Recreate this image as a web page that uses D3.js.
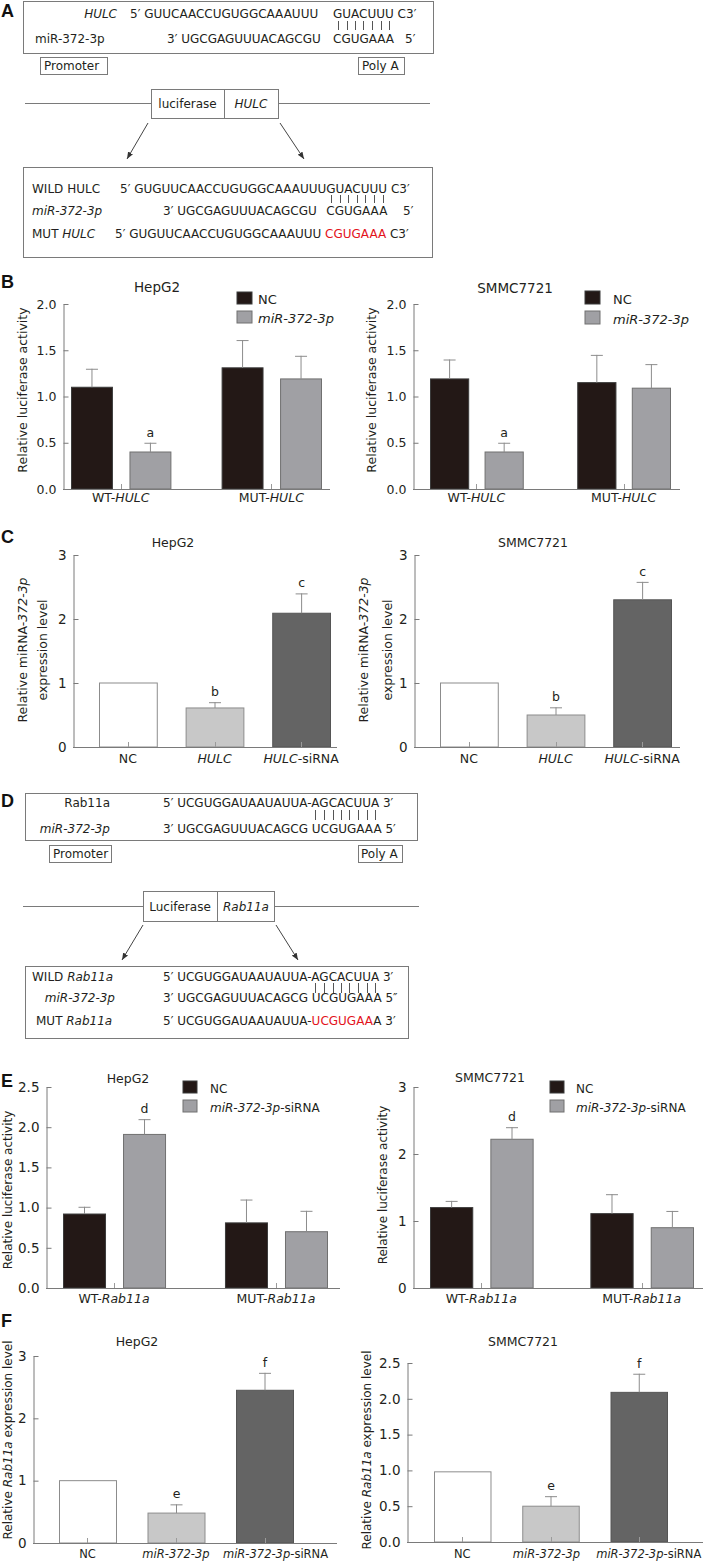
<!DOCTYPE html>
<html><head><meta charset="utf-8">
<script src="https://cdn.jsdelivr.net/npm/d3@7"></script>
<style>
body{margin:0;background:#fff;}
svg{display:block;font-family:"DejaVu Sans",Verdana,sans-serif;}
text{white-space:pre;}
</style></head><body>
<svg id="fig" width="706" height="1563"></svg>
<script>
// ================= DATA =================
// Panel B: luciferase activity, HULC constructs
const groupsHULC = ["WT-*HULC*", "MUT-*HULC*"];
const seriesB = ["NC", "*miR-372-3p*"];
const bHepNC = [1.10, 1.31], bHepNCErr = [0.20, 0.30];
const bHepMiR = [0.40, 1.19], bHepMiRErr = [0.10, 0.25];
const bHepSig = [["", ""], ["a", ""]];
const bSmmNC = [1.19, 1.15], bSmmNCErr = [0.21, 0.30];
const bSmmMiR = [0.40, 1.09], bSmmMiRErr = [0.10, 0.26];
const bSmmSig = [["", ""], ["a", ""]];
const ticksB = [0, 0.5, 1.0, 1.5, 2.0];

// Panel C: miRNA-372-3p expression
const catsC = ["NC", "*HULC*", "*HULC*-siRNA"];
const cHep = [1.00, 0.61, 2.09], cHepErr = [0, 0.09, 0.31], cHepSig = ["", "b", "c"];
const cSmm = [1.00, 0.50, 2.30], cSmmErr = [0, 0.12, 0.28], cSmmSig = ["", "b", "c"];
const ticksC = [0, 1, 2, 3];

// Panel E: luciferase activity, Rab11a constructs
const groupsRab = ["WT-*Rab11a*", "MUT-*Rab11a*"];
const seriesE = ["NC", "*miR-372-3p*-siRNA"];
const eHepNC = [0.92, 0.81], eHepNCErr = [0.09, 0.29];
const eHepSi = [1.91, 0.70], eHepSiErr = [0.19, 0.26];
const eHepSig = [["", ""], ["d", ""]];
const eSmmNC = [1.20, 1.11], eSmmNCErr = [0.10, 0.29];
const eSmmSi = [2.22, 0.90], eSmmSiErr = [0.18, 0.25];
const eSmmSig = [["", ""], ["d", ""]];
const ticksEHep = [0, 0.5, 1.0, 1.5, 2.0, 2.5];
const ticksESmm = [0, 1, 2, 3];

// Panel F: Rab11a expression
const catsF = ["NC", "*miR-372-3p*", "*miR-372-3p*-siRNA"];
const fHep = [1.00, 0.48, 2.45], fHepErr = [0, 0.14, 0.28], fHepSig = ["", "e", "f"];
const fSmm = [0.98, 0.50, 2.09], fSmmErr = [0, 0.14, 0.26], fSmmSig = ["", "e", "f"];
const ticksFHep = [0, 1, 2, 3];
const ticksFSmm = [0, 0.5, 1.0, 1.5, 2.0, 2.5];

// ================= DRAWING =================
const svg = d3.select("#fig");
const INK = "#231f20", AX = "#7a7a7a", ERR = "#8c8c8c";

svg.append("defs").append("marker")
  .attr("id", "arr").attr("viewBox", "0 0 10 10").attr("refX", 10).attr("refY", 5)
  .attr("markerWidth", 7).attr("markerHeight", 7).attr("markerUnits", "userSpaceOnUse")
  .attr("orient", "auto")
  .append("path").attr("d", "M0,1L10,5L0,9Z").attr("fill", "#333");

function rich(sel, str) {
  str.split(/(\*[^*]+\*|\[[^\]]+\])/).filter(s => s.length).forEach(t => {
    const sp = sel.append("tspan");
    if (t[0] === "*") sp.attr("font-style", "italic").text(t.slice(1, -1));
    else if (t[0] === "[") sp.attr("fill", "#e3131b").text(t.slice(1, -1));
    else sp.text(t);
  });
  return sel;
}
function txt(x, y, str, o = {}) {
  const t = svg.append("text").attr("x", x).attr("y", y)
    .attr("font-size", o.fs || 12).attr("fill", o.fill || INK)
    .attr("text-anchor", o.anchor || "start");
  if (o.weight) t.attr("font-weight", o.weight);
  if (o.family) t.attr("font-family", o.family);
  return rich(t, str);
}
function vtxt(cx, cy, str, fs) {
  const t = svg.append("text").attr("transform", `translate(${cx},${cy}) rotate(-90)`)
    .attr("text-anchor", "middle").attr("dy", "0.35em").attr("font-size", fs).attr("fill", INK);
  return rich(t, str);
}
function line(x1, y1, x2, y2, c = AX, arrow = false) {
  const l = svg.append("line").attr("x1", x1).attr("y1", y1).attr("x2", x2).attr("y2", y2)
    .attr("stroke", c).attr("stroke-width", 1);
  if (arrow) l.attr("marker-end", "url(#arr)");
  return l;
}
function box(x, y, w, h) {
  svg.append("rect").attr("x", x + 0.5).attr("y", y + 0.5).attr("width", w).attr("height", h)
    .attr("fill", "none").attr("stroke", AX);
}
function pairBars(textSel, i0, n, y1, y2) {
  const node = textSel.node();
  for (let i = i0; i < i0 + n; i++) {
    const e = node.getExtentOfChar(i);
    const cx = Math.round(e.x + e.width / 2) + 0.5;
    line(cx, y1, cx, y2, "#555");
  }
}
function panelLetter(x, y, s) {
  txt(x, y, s, {fs: 18, weight: "bold", family: "'Liberation Sans',Arial,sans-serif", fill: "#111"});
}

// ---------- Panel A ----------
panelLetter(1, 17, "A");
box(23, 1, 410, 52);
txt(117, 18, "*HULC*", {anchor: "end"});
txt(130, 18, "5′ GUUCAACCUGUGGCAAAUUU");
const aTop = txt(333, 18, "GUACUUU C3′");
pairBars(aTop, 0, 7, 21, 30);
txt(35, 43, "miR-372-3p");
txt(167, 43, "3′ UGCGAGUUUACAGCGU");
txt(333, 43, "CGUGAAA");
txt(405, 43, "5′");
box(40, 57, 67, 17); txt(44, 70, "Promoter");
box(358, 57, 46, 17); txt(362, 70, "Poly A");
line(25, 103.5, 151, 103.5); line(278, 103.5, 430, 103.5);
box(151, 89, 127, 29); line(224.5, 89, 224.5, 118);
txt(187.5, 108, "luciferase", {anchor: "middle"});
txt(251, 108, "*HULC*", {anchor: "middle"});
line(148, 123, 127, 159, "#444", true);
line(280, 123, 304, 159, "#444", true);
box(23, 167, 409, 90);
txt(32, 193, "WILD HULC");
const aWild = txt(120, 193, "5′ GUGUUCAACCUGUGGCAAAUUUGUACUUU C3′");
pairBars(aWild, 25, 7, 195, 203);
txt(32, 215, "*miR-372-3p*");
txt(163, 215, "3′ UGCGAGUUUACAGCGU");
txt(aWild.node().getExtentOfChar(25).x, 215, "CGUGAAA");
txt(403, 215, "5′");
txt(32, 238, "MUT *HULC*");
txt(115, 238, "5′ GUGUUCAACCUGUGGCAAAUUU [CGUGAAA] C3′");

// ---------- Panel D ----------
panelLetter(1, 807, "D");
box(25, 793, 392, 47);
txt(110, 807, "Rab11a", {anchor: "end"});
const dTop = txt(163, 807, "5′ UCGUGGAUAAUAUUA-AGCACUUA 3′");
pairBars(dTop, 19, 8, 810, 820);
txt(110, 833, "*miR-372-3p*", {anchor: "end"});
txt(163, 833, "3′ UGCGAGUUUACAGCG UCGUGAAA 5′");
box(49, 845, 62, 17); txt(53, 858, "Promoter");
box(358, 845, 44, 17); txt(361, 858, "Poly A");
line(23, 906.5, 143, 906.5); line(274, 906.5, 419, 906.5);
box(143, 891, 131, 30); line(217.5, 891, 217.5, 921);
txt(180, 911, "Luciferase", {anchor: "middle"});
txt(246, 911, "*Rab11a*", {anchor: "middle"});
line(143, 925, 122, 960, "#444", true);
line(276, 925, 298, 960, "#444", true);
box(25, 966, 383, 72);
txt(32, 981, "WILD *Rab11a*");
const dWild = txt(163, 981, "5′ UCGUGGAUAAUAUUA-AGCACUUA 3′");
pairBars(dWild, 19, 8, 983, 993);
txt(115, 1002, "*miR-372-3p*", {anchor: "end"});
txt(163, 1002, "3′ UGCGAGUUUACAGCG UCGUGAAA 5″");
txt(36, 1025, "MUT *Rab11a*");
txt(163, 1025, "5′ UCGUGGAUAAUAUUA-[UCGUGAA]A 3′");

// ---------- chart helpers ----------
function yAxis(y, x0, ticks, fmt, fs) {
  const ga = svg.append("g").attr("transform", `translate(${x0},0)`)
    .call(d3.axisLeft(y).tickValues(ticks).tickFormat(fmt).tickSizeInner(-5).tickSizeOuter(0).tickPadding(7));
  ga.attr("font-family", null).attr("font-size", null);
  ga.select(".domain").attr("stroke", AX);
  ga.selectAll(".tick line").attr("stroke", AX);
  ga.selectAll(".tick text").attr("fill", INK).attr("font-size", fs);
}
function xBase(L, y, centers) {
  line(L.ax0, L.yBot + 0.5, L.ax1, L.yBot + 0.5);
  centers.forEach(c => line(Math.round(c) + 0.5, L.yBot, Math.round(c) + 0.5, L.yBot - 5, "#9a9a9a"));
}
function errBar(cx, y, m, e, sig) {
  if (e > 0) {
    line(cx, y(m), cx, y(m + e), ERR);
    line(cx - 6, y(m + e) + 0.5, cx + 6, y(m + e) + 0.5, ERR);
  }
  if (sig) txt(cx, y(m + e) - 6, sig, {anchor: "middle", fs: 12.5});
}

function groupedChart(L, D) {
  const y = d3.scaleLinear().domain([0, D.ymax]).range([L.yBot, L.yTop]);
  const x0 = d3.scaleBand().domain(D.groups).range([L.bx0, L.bx1]).paddingInner(L.pad).paddingOuter(0);
  const x1 = d3.scaleBand().domain(D.series).range([0, x0.bandwidth()]).paddingInner(L.inner).paddingOuter(0);
  const fills = ["#231816", "#a0a0a4"], strokes = ["#3b3b3b", "#707070"];
  D.series.forEach((s, si) => {
    D.groups.forEach((g, gi) => {
      const m = D.means[si][gi];
      svg.append("rect").attr("x", x0(g) + x1(s) + 0.5).attr("y", y(m))
        .attr("width", x1.bandwidth()).attr("height", y(0) - y(m))
        .attr("fill", fills[si]).attr("stroke", strokes[si]);
    });
  });
  D.series.forEach((s, si) => D.groups.forEach((g, gi) => {
    errBar(x0(g) + x1(s) + x1.bandwidth() / 2 + 0.5, y, D.means[si][gi], D.errs[si][gi], D.sig[si][gi]);
  }));
  yAxis(y, L.ax0 + 0.5, D.ticks, D.fmt, L.tfs);
  xBase(L, y, D.groups.map(g => x0(g) + x0.bandwidth() / 2));
  D.groups.forEach(g => txt(x0(g) + x0.bandwidth() / 2, L.catY, g, {anchor: "middle", fs: 12.5}));
  txt(L.titleX, L.titleY, D.title, {anchor: "middle", fs: L.titleFs || 12.5});
  vtxt(L.ylx, L.yly, D.ylabel, L.ylfs || 12.5);
  D.series.forEach((s, si) => {
    svg.append("rect").attr("x", L.lgx).attr("y", L.lgy[si]).attr("width", L.lgw).attr("height", L.lgh)
      .attr("fill", fills[si]).attr("stroke", strokes[si]);
    txt(L.lgtx, L.lgy[si] + L.lgh, s, {fs: L.lgfs});
  });
}

function simpleChart(L, D) {
  const y = d3.scaleLinear().domain([0, D.ymax]).range([L.yBot, L.yTop]);
  const x = d3.scaleBand().domain(D.cats).range([L.bx0, L.bx1]).paddingInner(L.pad).paddingOuter(0);
  const fills = ["#ffffff", "#c8c8c8", "#646464"], strokes = ["#8c8c8c", "#8c8c8c", "#555555"];
  D.cats.forEach((c, i) => {
    const m = D.means[i];
    svg.append("rect").attr("x", x(c) + 0.5).attr("y", y(m)).attr("width", x.bandwidth())
      .attr("height", y(0) - y(m)).attr("fill", fills[i]).attr("stroke", strokes[i]);
  });
  D.cats.forEach((c, i) => errBar(x(c) + x.bandwidth() / 2 + 0.5, y, D.means[i], D.errs[i], D.sig[i]));
  yAxis(y, L.ax0 + 0.5, D.ticks, D.fmt, L.tfs);
  xBase(L, y, D.cats.map(c => x(c) + x.bandwidth() / 2));
  const dx = L.catDx || [0, 0, 0];
  D.cats.forEach((c, i) => txt(x(c) + x.bandwidth() / 2 + dx[i], L.catY, c, {anchor: "middle", fs: L.catfs || 12.5}));
  txt(L.titleX, L.titleY, D.title, {anchor: "middle", fs: 12.5});
  if (Array.isArray(D.ylabel)) {
    vtxt(L.ylx[0], L.yly, D.ylabel[0], L.ylfs || 12.5);
    vtxt(L.ylx[1], L.yly, D.ylabel[1], L.ylfs || 12.5);
  } else vtxt(L.ylx, L.yly, D.ylabel, L.ylfs || 12.5);
}

const f1 = d3.format(".1f"), f0 = d3.format("d");

// ---------- Panel B ----------
panelLetter(1, 288, "B");
groupedChart(
  {ax0: 63, ax1: 330, yTop: 304, yBot: 489, bx0: 71, bx1: 321, pad: 0.34, inner: 0.3, tfs: 12.5,
   catY: 502, titleX: 157, titleY: 292, titleFs: 13.5, ylx: 23, yly: 390,
   lgx: 237, lgy: [292, 311], lgw: 15, lgh: 12, lgtx: 258, lgfs: 13},
  {groups: groupsHULC, series: seriesB, means: [bHepNC, bHepMiR], errs: [bHepNCErr, bHepMiRErr],
   sig: bHepSig, ymax: 2, ticks: ticksB, fmt: f1, title: "HepG2", ylabel: "Relative luciferase activity"});
groupedChart(
  {ax0: 413, ax1: 680, yTop: 304, yBot: 489, bx0: 430, bx1: 670, pad: 0.37, inner: 0.3, tfs: 12.5,
   catY: 502, titleX: 515, titleY: 293, titleFs: 13.5, ylx: 372, yly: 390,
   lgx: 585, lgy: [291, 311], lgw: 15, lgh: 13, lgtx: 613, lgfs: 13},
  {groups: groupsHULC, series: seriesB, means: [bSmmNC, bSmmMiR], errs: [bSmmNCErr, bSmmMiRErr],
   sig: bSmmSig, ymax: 2, ticks: ticksB, fmt: f1, title: "SMMC7721", ylabel: "Relative luciferase activity"});

// ---------- Panel C ----------
panelLetter(1, 543, "C");
simpleChart(
  {ax0: 73, ax1: 337, yTop: 555, yBot: 747, bx0: 99, bx1: 330, pad: 0.333, tfs: 13.5,
   catY: 763, titleX: 173, titleY: 547, ylx: [23, 43], yly: 650},
  {cats: catsC, means: cHep, errs: cHepErr, sig: cHepSig, ymax: 3, ticks: ticksC, fmt: f0,
   title: "HepG2", ylabel: ["Relative miRNA-*372-3p*", "expression level"]});
simpleChart(
  {ax0: 414, ax1: 680, yTop: 555, yBot: 747, bx0: 440, bx1: 671, pad: 0.333, tfs: 13.5,
   catY: 763, titleX: 533, titleY: 547, ylx: [364, 388], yly: 650},
  {cats: catsC, means: cSmm, errs: cSmmErr, sig: cSmmSig, ymax: 3, ticks: ticksC, fmt: f0,
   title: "SMMC7721", ylabel: ["Relative miRNA-*372-3p*", "expression level"]});

// ---------- Panel E ----------
panelLetter(1, 1087, "E");
groupedChart(
  {ax0: 46, ax1: 340, yTop: 1087, yBot: 1288, bx0: 63, bx1: 327, pad: 0.37, inner: 0.3, tfs: 13.5,
   catY: 1303, titleX: 128, titleY: 1083, ylx: 8, yly: 1190, ylfs: 12,
   lgx: 183, lgy: [1081, 1100], lgw: 14, lgh: 12, lgtx: 210, lgfs: 12},
  {groups: groupsRab, series: seriesE, means: [eHepNC, eHepSi], errs: [eHepNCErr, eHepSiErr],
   sig: eHepSig, ymax: 2.5, ticks: ticksEHep, fmt: f1, title: "HepG2", ylabel: "Relative luciferase activity"});
groupedChart(
  {ax0: 413, ax1: 703, yTop: 1087, yBot: 1288, bx0: 430, bx1: 693, pad: 0.36, inner: 0.3, tfs: 13.5,
   catY: 1303, titleX: 490, titleY: 1082, ylx: 383, yly: 1185, ylfs: 12,
   lgx: 550, lgy: [1081, 1100], lgw: 14, lgh: 12, lgtx: 576, lgfs: 12},
  {groups: groupsRab, series: seriesE, means: [eSmmNC, eSmmSi], errs: [eSmmNCErr, eSmmSiErr],
   sig: eSmmSig, ymax: 3, ticks: ticksESmm, fmt: f0, title: "SMMC7721", ylabel: "Relative luciferase activity"});

// ---------- Panel F ----------
panelLetter(1, 1327, "F");
simpleChart(
  {ax0: 33, ax1: 337, yTop: 1356, yBot: 1543, bx0: 59, bx1: 293, pad: 0.356, tfs: 13.5,
   catY: 1558, catfs: 11.5, catDx: [0, 0, 11], titleX: 137, titleY: 1346, ylx: 8, yly: 1440, ylfs: 12},
  {cats: catsF, means: fHep, errs: fHepErr, sig: fHepSig, ymax: 3, ticks: ticksFHep, fmt: f0,
   title: "HepG2", ylabel: "Relative *Rab11a* expression level"});
simpleChart(
  {ax0: 407, ax1: 703, yTop: 1363, yBot: 1542, bx0: 434, bx1: 667, pad: 0.36, tfs: 13.5,
   catY: 1558, catfs: 11.5, catDx: [0, -4, 10], titleX: 523, titleY: 1346, ylx: 367, yly: 1450, ylfs: 12},
  {cats: catsF, means: fSmm, errs: fSmmErr, sig: fSmmSig, ymax: 2.5, ticks: ticksFSmm, fmt: f1,
   title: "SMMC7721", ylabel: "Relative *Rab11a* expression level"});
</script>
</body></html>
